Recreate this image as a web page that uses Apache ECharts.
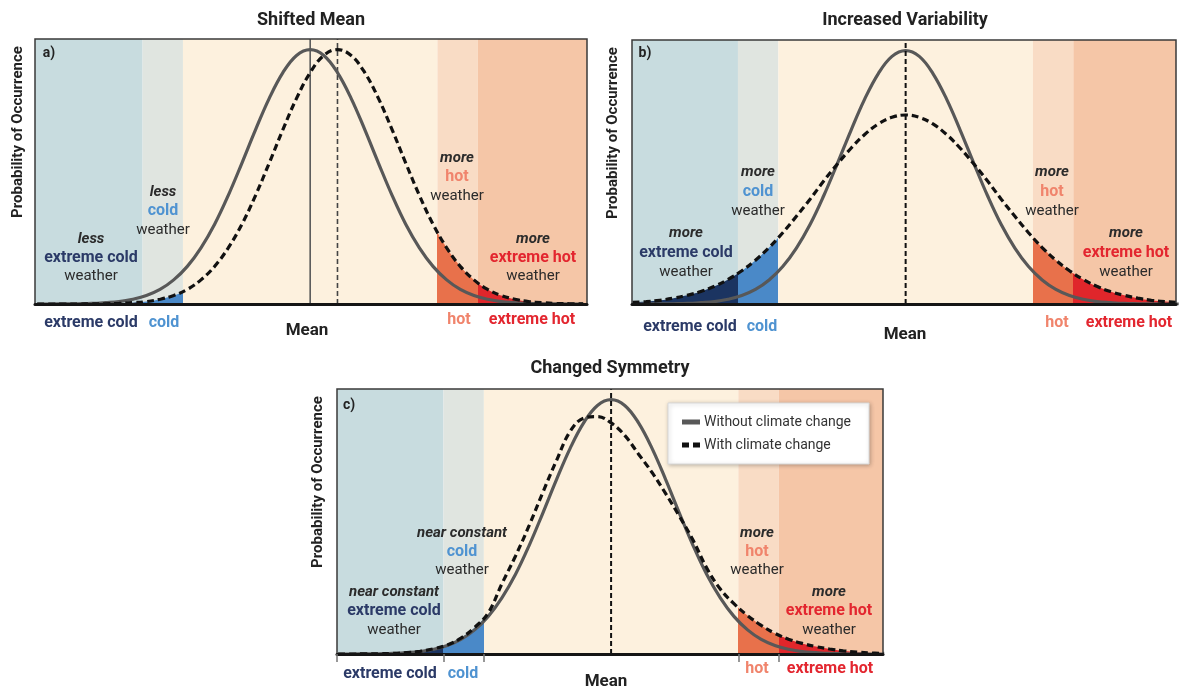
<!DOCTYPE html>
<html><head><meta charset="utf-8">
<script src="https://cdn.jsdelivr.net/npm/echarts@6/dist/echarts.min.js"></script>
<style>html,body{margin:0;padding:0;background:#fff}#c{width:1179px;height:689px}</style>
</head><body><div id="c"></div>
<script>
// ---------- data ----------
const xs = [0,2.5,5,7.5,10,12.5,15,17.5,20,22.5,25,27.5,30,32.5,35,37.5,40,42.5,45,47.5,50,52.5,55,57.5,60,62.5,65,67.5,70,72.5,75,77.5,80,82.5,85,87.5,90,92.5,95,97.5,100];
const solidA = [0,0,0.05,0.1,0.2,0.5,0.9,1.8,3.2,5.5,9.1,14.2,21.2,30.1,41.0,53.2,65.8,77.6,87.3,93.8,96,93.8,87.3,77.6,65.8,53.2,41.0,30.1,21.2,14.2,9.1,5.5,3.2,1.8,0.9,0.5,0.2,0.1,0.05,0,0];
const dashedA = [0,0,0,0,0.05,0.1,0.2,0.5,0.9,1.8,3.2,5.5,9.1,14.2,21.2,30.1,41.0,53.2,65.8,77.6,87.3,93.8,96,93.8,87.3,77.6,65.8,53.2,41.0,30.1,21.2,14.2,9.1,5.5,3.2,1.8,0.9,0.5,0.2,0.1,0.05];
const solidB = [0,0,0.05,0.1,0.2,0.5,0.9,1.8,3.2,5.5,9.1,14.2,21.2,30.1,41.0,53.2,65.8,77.6,87.3,93.8,96,93.8,87.3,77.6,65.8,53.2,41.0,30.1,21.2,14.2,9.1,5.5,3.2,1.8,0.9,0.5,0.2,0.1,0.05,0,0];
const dashedB = [0.6,0.9,1.4,2.2,3.3,4.7,6.7,9.3,12.6,16.6,21.4,27.0,33.2,39.7,46.6,53.0,59.0,64.2,68.2,70.7,71.6,70.7,68.2,64.2,59.0,53.0,46.6,39.7,33.2,27.0,21.4,16.6,12.6,9.3,6.7,4.7,3.3,2.2,1.4,0.9,0.6];
const solidC = [0,0,0.05,0.1,0.2,0.5,0.9,1.8,3.2,5.5,9.1,14.2,21.2,30.1,41.0,53.2,65.8,77.6,87.3,93.8,96,93.8,87.3,77.6,65.8,53.2,41.0,30.1,21.2,14.2,9.1,5.5,3.2,1.8,0.9,0.5,0.2,0.1,0.05,0,0];
const dashedC = [0,0,0.05,0.1,0.2,0.5,1.0,2.0,3.4,6.0,10.0,15.5,26.5,37,48.5,61,73,84,89,89.6,87.2,82.5,75.5,68.5,60.5,52,43,32.5,24.5,19,14.5,10.8,7.8,5.6,4,2.8,1.9,1.2,0.7,0.4,0.2];
const bandEdges = [19.3, 26.7, 73.3, 80.7];
const meansA = [50, 55];
const meansB = [50];
const meansC = [50];
const seriesNames = ['Without climate change', 'With climate change'];
const bandNames = ['extreme cold', 'cold', 'hot', 'extreme hot'];

// ---------- styles ----------
const F = 'Roboto, "Noto Sans", sans-serif';
const bandBg = ['#c8dcdf', '#e0e5e0', '#fdf1de', '#f9dcc5', '#f5c6a7'];
const fillCol = ['#1b3461', '#4a89c8', 'rgba(0,0,0,0)', '#e8714b', '#e0262b'];
const txtCol = {dark:'#2b2b2b', navy:'#2b3a67', blue:'#4f93d1', hot:'#f0846c', xhot:'#e3262f'};

const panels = [
  {grid:{left:35, top:39, width:552, height:265}, min:-0.4, max:100.7, solid:solidA, dashed:dashedA, ticks:false},
  {grid:{left:632, top:40, width:544, height:264}, min:-0.1, max:99.5, solid:solidB, dashed:dashedB, ticks:false},
  {grid:{left:337, top:389, width:546, height:265}, min:-0.2, max:99.8, solid:solidC, dashed:dashedC, ticks:true}
];

const grids = [], xAxes = [], yAxes = [], series = [], visualMaps = [];
panels.forEach((p, k) => {
  grids.push(Object.assign({show:true, z:10, backgroundColor:'transparent', borderColor:'#3a3a3a', borderWidth:1.5}, p.grid));
  xAxes.push({gridIndex:k, type:'value', min:p.min, max:p.max, z:11,
    axisLine:{show:true, lineStyle:{color:'#151515', width:3}},
    axisTick:p.ticks ? {show:true, customValues:[p.min].concat(bandEdges), length:8, inside:false, lineStyle:{color:'#777', width:1.5}} : {show:false},
    axisLabel:{show:false}, splitLine:{show:false}});
  yAxes.push({gridIndex:k, type:'value', min:0, max:100, show:false});
  const edges = [p.min].concat(bandEdges, [p.max]);
  const areas = [];
  for (let i = 0; i < 5; i++) areas.push([{xAxis:edges[i], itemStyle:{color:bandBg[i]}}, {xAxis:edges[i+1]}]);
  const fillIdx = series.length;
  series.push({type:'line', name:'fill'+k, xAxisIndex:k, yAxisIndex:k, z:2, smooth:0.4, symbol:'none', silent:true,
    data: xs.map((x,i)=>[x, p.dashed[i]]),
    lineStyle:{width:0, opacity:0}, areaStyle:{opacity:1},
    markArea:{silent:true, data:areas}});
  visualMaps.push({type:'piecewise', show:false, seriesIndex:fillIdx, dimension:0,
    pieces:[{lte:bandEdges[0], color:fillCol[0]}, {gt:bandEdges[0], lte:bandEdges[1], color:fillCol[1]},
      {gt:bandEdges[1], lt:bandEdges[2], color:fillCol[2]}, {gte:bandEdges[2], lt:bandEdges[3], color:fillCol[3]},
      {gte:bandEdges[3], color:fillCol[4]}]});
  series.push({type:'line', name:seriesNames[0], xAxisIndex:k, yAxisIndex:k, z:4, smooth:0.4, symbol:'none', silent:true,
    data: xs.map((x,i)=>[x, p.solid[i]]), color:'#585858', lineStyle:{color:'#585858', width:3.2}});
  series.push({type:'line', name:seriesNames[1], xAxisIndex:k, yAxisIndex:k, z:5, smooth:0.4, symbol:'none', silent:true,
    data: xs.map((x,i)=>[x, p.dashed[i]]), color:'#111', lineStyle:{color:'#111', width:3.2, type:[7,4]}});
});
// mean lines
function meanLine(k, m, style, z) {
  series.push({type:'line', name:'mean'+k+'_'+m, xAxisIndex:k, yAxisIndex:k, z:z, symbol:'none', silent:true,
    data:[[m,0],[m,100]], lineStyle:style});
}
meanLine(0, meansA[0], {color:'#5a5a5a', width:1.6}, 3);
meanLine(0, meansA[1], {color:'#444', width:1.6, type:[5,3]}, 3);
meanLine(1, meansB[0], {color:'#111', width:2, type:[5,3]}, 6);
meanLine(2, meansC[0], {color:'#111', width:2, type:[5,3]}, 6);

// ---------- text ----------
const G = [];
function T(x, y, s, o) {
  G.push({type:'text', x:x, y:y, z:100, silent:true, style:Object.assign({text:s, fontFamily:F, fontSize:15, fill:txtCol.dark, align:'center', verticalAlign:'middle'}, o||{})});
}
const bold = c => ({fontWeight:'bold', fontSize:16, fill:c});
const ital = {fontWeight:'bold', fontStyle:'italic', fontSize:15, fill:txtCol.dark};
const ttl = {fontSize:18, fontWeight:'bold', fill:'#222'};
// titles
T(311, 20, 'Shifted Mean', ttl);
T(905, 20, 'Increased Variability', ttl);
T(610, 368, 'Changed Symmetry', ttl);
T(49, 53, 'a)', {fontSize:14, fontWeight:'bold', fill:'#222'});
T(645, 53, 'b)', {fontSize:14, fontWeight:'bold', fill:'#222'});
T(349, 405, 'c)', {fontSize:14, fontWeight:'bold', fill:'#222'});
[[18,132],[613,133],[318,482]].forEach(([x,y]) => {
  G.push({type:'text', x:x, y:y, rotation:Math.PI/2, z:100, silent:true,
    style:{text:'Probability of Occurrence', fontFamily:F, fontSize:15, fontWeight:'bold', fill:'#222', align:'center', verticalAlign:'middle'}});
});
function trio(x, y0, w1, w2, c2, dy) {
  T(x, y0, w1, ital); T(x, y0+dy, w2, bold(c2)); T(x, y0+2*dy, 'weather');
}
// panel a
trio(91, 239, 'less', bandNames[0], txtCol.navy, 18.5);
trio(163, 192, 'less', bandNames[1], txtCol.blue, 19);
trio(457, 158, 'more', bandNames[2], txtCol.hot, 19);
trio(533, 239, 'more', bandNames[3], txtCol.xhot, 18.5);
T(91, 323, bandNames[0], bold(txtCol.navy)); T(164, 323, bandNames[1], bold(txtCol.blue));
T(459, 320, bandNames[2], bold(txtCol.hot)); T(532, 320, bandNames[3], bold(txtCol.xhot));
T(307, 331, 'Mean', {fontSize:17, fontWeight:'bold', fill:'#222'});
// panel b
trio(686, 233, 'more', bandNames[0], txtCol.navy, 19.5);
trio(758, 172, 'more', bandNames[1], txtCol.blue, 19.5);
trio(1052, 172, 'more', bandNames[2], txtCol.hot, 19.5);
trio(1126, 233, 'more', bandNames[3], txtCol.xhot, 19.5);
T(690, 327, bandNames[0], bold(txtCol.navy)); T(762, 327, bandNames[1], bold(txtCol.blue));
T(1057, 323, bandNames[2], bold(txtCol.hot)); T(1129, 323, bandNames[3], bold(txtCol.xhot));
T(905, 335, 'Mean', {fontSize:17, fontWeight:'bold', fill:'#222'});
// panel c
trio(394, 592, 'near constant', bandNames[0], txtCol.navy, 19);
trio(462, 533, 'near constant', bandNames[1], txtCol.blue, 18.5);
trio(757, 533, 'more', bandNames[2], txtCol.hot, 18.5);
trio(829, 592, 'more', bandNames[3], txtCol.xhot, 19);
T(390, 674, bandNames[0], bold(txtCol.navy)); T(463, 674, bandNames[1], bold(txtCol.blue));
T(757, 669, bandNames[2], bold(txtCol.hot)); T(830, 669, bandNames[3], bold(txtCol.xhot));
T(606, 682, 'Mean', {fontSize:17, fontWeight:'bold', fill:'#222'});

const chart = echarts.init(document.getElementById('c'), null, {renderer:'canvas'});
chart.setOption({
  animation:false,
  backgroundColor:'#fff',
  grid:grids, xAxis:xAxes, yAxis:yAxes, visualMap:visualMaps, series:series,
  legend:{data:[{name:seriesNames[0], icon:'rect'}, {name:seriesNames[1], icon:'path://M0,0h7v5h-7z M11,0h7v5h-7z'}],
    orient:'vertical', left:668, top:403, z:20, selectedMode:false,
    backgroundColor:'#fff', borderColor:'#d8d8d8', borderWidth:1, shadowBlur:4, shadowColor:'rgba(0,0,0,0.25)', shadowOffsetX:1, shadowOffsetY:1,
    padding:[12,18,12,14], itemGap:9, itemWidth:18, itemHeight:5,
    textStyle:{fontFamily:F, fontSize:14, color:'#333', padding:[0,0,0,-1]}},
  graphic:G
});
</script></body></html>
